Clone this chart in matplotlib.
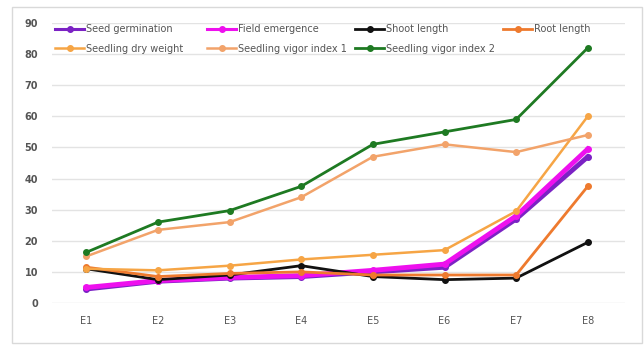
import matplotlib.pyplot as plt
from matplotlib.patches import Rectangle
from matplotlib.lines import Line2D

# stages and trait values
stages = ['E1', 'E2', 'E3', 'E4', 'E5', 'E6', 'E7', 'E8']
seed_germination = [4.5, 7, 8, 8.5, 10, 11.5, 27, 47]
field_emergence = [5, 7.2, 8.2, 8.8, 10.5, 12.5, 28, 49.5]
shoot_length = [11, 7.5, 9, 12, 8.5, 7.5, 8, 19.5]
root_length = [11.5, 8.5, 9.5, 10, 9, 9, 9, 37.5]
seedling_dry_weight = [11, 10.5, 12, 14, 15.5, 17, 29.5, 60]
vigor_index_1 = [15, 23.5, 26, 34, 47, 51, 48.5, 54]
vigor_index_2 = [16.3, 26, 29.7, 37.5, 51, 55, 59, 82]

series = [
    ('Seed germination', seed_germination, '#7B22C4', 3.5),
    ('Field emergence', field_emergence, '#EE10EE', 3.5),
    ('Shoot length', shoot_length, '#111111', 2.0),
    ('Root length', root_length, '#EE7A2E', 2.0),
    ('Seedling dry weight', seedling_dry_weight, '#F6A545', 1.8),
    ('Seedling vigor index 1', vigor_index_1, '#F2A36A', 1.8),
    ('Seedling vigor index 2', vigor_index_2, '#1E7A22', 2.0),
]

fig = plt.figure(figsize=(6.44, 3.45), dpi=100)
fig.patches.append(Rectangle((12 / 644, 2 / 345), 630 / 644, 336 / 345,
                             transform=fig.transFigure, fill=False,
                             edgecolor='#D9D9D9', linewidth=1.0))
ax = fig.add_axes([52 / 644, 42 / 345, 573 / 644, 280 / 345])

x = list(range(len(stages)))
handles = []
for name, vals, color, lw in series:
    ax.plot(x, vals, color=color, linewidth=lw, marker='o',
            markersize=4, label=name, solid_joinstyle='round')
    handles.append(Line2D([0], [0], color=color, linewidth=min(lw, 2.2),
                          marker='o', markersize=4))

ax.set_xlim(-0.48, 7.52)
ax.set_ylim(0, 90)
ax.set_yticks(range(0, 91, 10))
ax.set_xticks(x)
ax.set_xticklabels(stages)
ax.grid(axis='y', color='#E3E3E3', linewidth=1.0)
ax.set_axisbelow(True)
for s in ax.spines.values():
    s.set_visible(False)
ax.tick_params(length=0, labelsize=7, labelcolor='#555555')
ax.tick_params(axis='y', pad=10)
ax.tick_params(axis='x', pad=9)
for t in ax.get_yticklabels():
    t.set_fontweight('bold')

# legend laid out as four equal-width columns across the top
names = [s[0] for s in series]
columns = [[0, 4], [1, 5], [2, 6], [3]]
col_x = [55, 207, 355, 503]
for cx, idx in zip(col_x, columns):
    leg = ax.legend([handles[i] for i in idx], [names[i] for i in idx],
                    loc='upper left', frameon=False, fontsize=7,
                    handlelength=3.0, handletextpad=0.2, labelspacing=1.0,
                    borderaxespad=0, borderpad=0,
                    bbox_to_anchor=((cx - 52) / 573, (345 - 24 - 42) / 280))
    for t in leg.get_texts():
        t.set_color('#555555')
    ax.add_artist(leg)
ax.legend_ = None

fig.savefig('out.png', dpi=100)
